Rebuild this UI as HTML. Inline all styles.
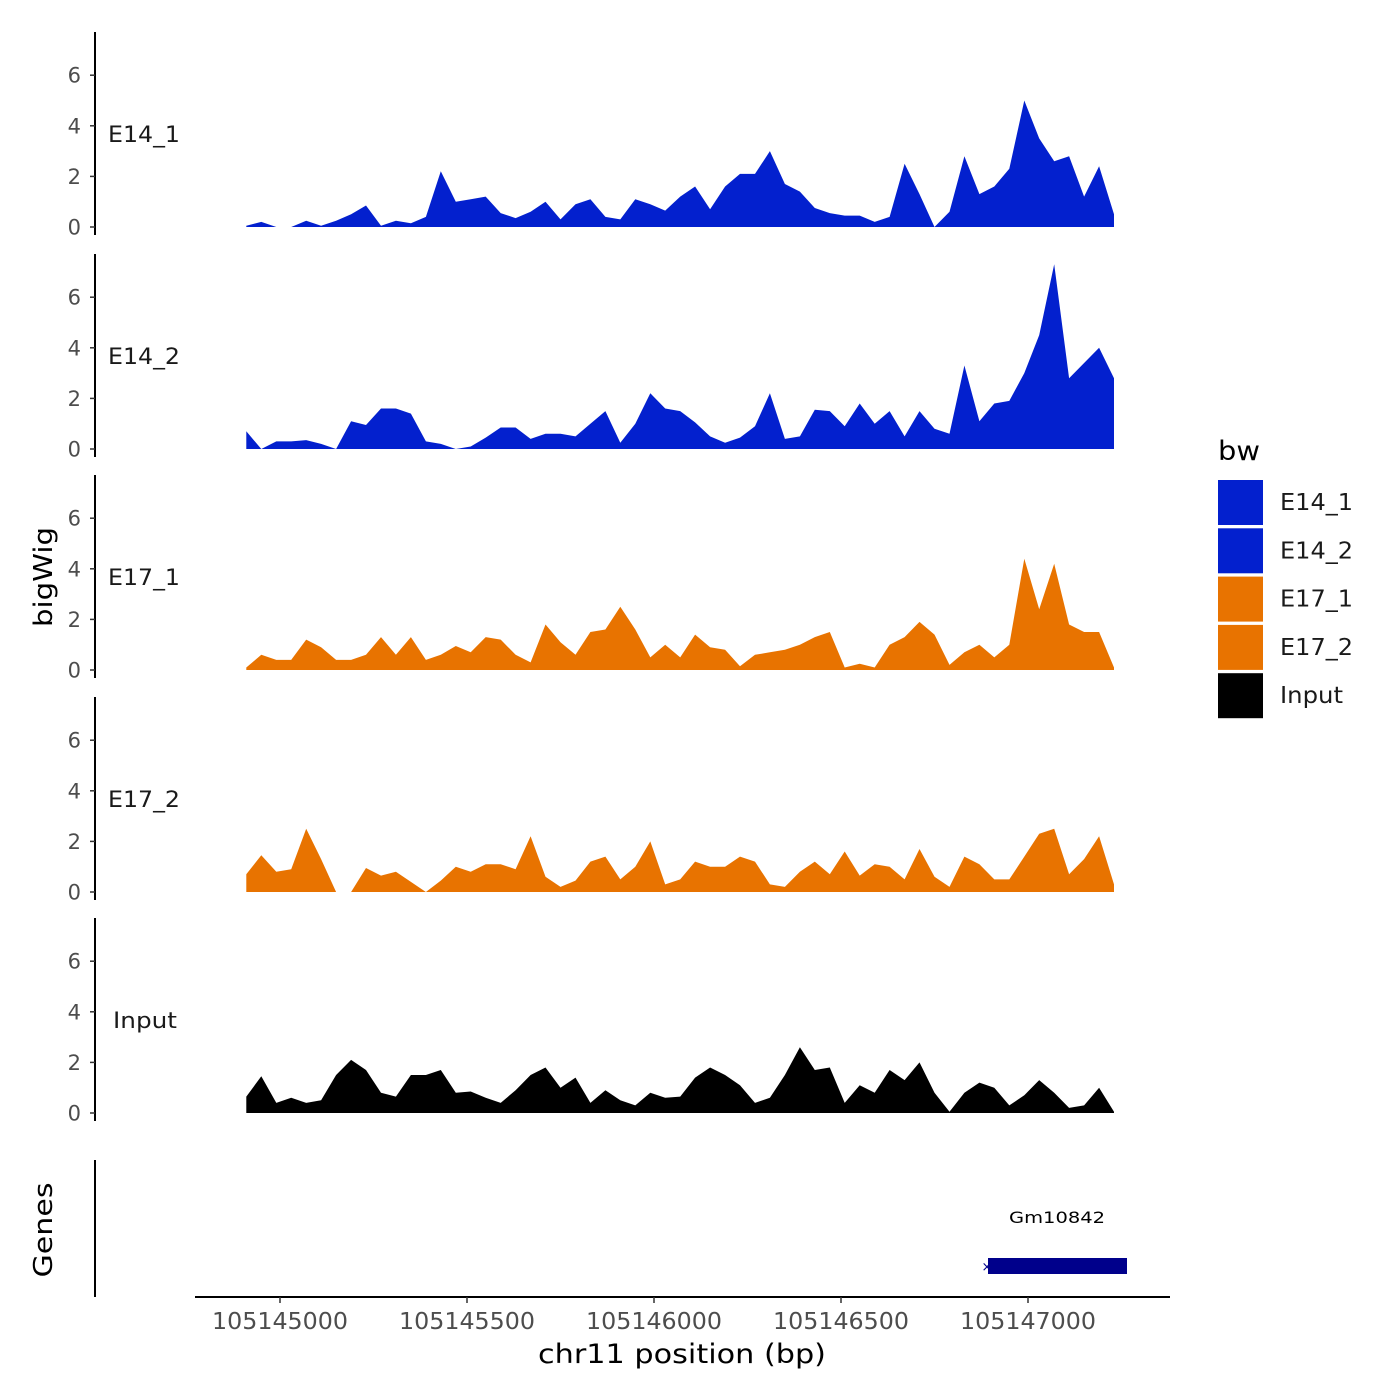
<!DOCTYPE html>
<html><head><meta charset="utf-8"><style>
html,body{margin:0;padding:0;background:#fff;}
svg{display:block;font-family:"DejaVu Sans","Liberation Sans",sans-serif;}
</style></head><body>
<svg id="chart" width="1400" height="1400" viewBox="0 0 1400 1400">
<rect width="1400" height="1400" fill="#fff"/>
<g id="panels"></g>
<g id="genes">
  <line x1="95" y1="1160" x2="95" y2="1297" stroke="#000" stroke-width="2"/>
  <text x="52" y="1230" font-size="26" text-anchor="middle" textLength="95" lengthAdjust="spacingAndGlyphs" transform="rotate(-90 52 1230)">Genes</text>
  <text x="1057" y="1223" font-size="16" text-anchor="middle" textLength="96" lengthAdjust="spacingAndGlyphs">Gm10842</text>
  <rect x="988" y="1258" width="139" height="16" fill="#00008B"/>
  <text x="987" y="1271" font-size="13" fill="#00008B" text-anchor="middle">×</text>
</g>
<g id="xaxis">
  <line x1="195" y1="1297" x2="1170" y2="1297" stroke="#000" stroke-width="2"/>
  <text x="682" y="1363" font-size="27" text-anchor="middle" textLength="288" lengthAdjust="spacingAndGlyphs">chr11 position (bp)</text>
</g>
<text x="52" y="577" font-size="26" text-anchor="middle" textLength="100" lengthAdjust="spacingAndGlyphs" transform="rotate(-90 52 577)">bigWig</text>
<g id="legend">
  <text x="1218" y="460" font-size="27" textLength="42" lengthAdjust="spacingAndGlyphs">bw</text>
</g>
</svg>
<script>
const seriesNames = ["E14_1","E14_2","E17_1","E17_2","Input"];
const seriesColors = ["#0320CE","#0320CE","#E87300","#E87300","#000000"];
const startBp = 105144910;
const stepBp = 40;
const e14_1 = [0.05,0.2,0,0,0.25,0.05,0.25,0.5,0.85,0.05,0.25,0.15,0.4,2.2,1.0,1.1,1.2,0.55,0.35,0.6,1.0,0.3,0.9,1.1,0.4,0.3,1.1,0.9,0.65,1.2,1.6,0.7,1.6,2.1,2.1,3.0,1.7,1.4,0.75,0.55,0.45,0.45,0.2,0.4,2.5,1.3,0,0.6,2.8,1.3,1.6,2.3,5.0,3.5,2.6,2.8,1.2,2.4,0.5];
const e14_2 = [0.7,0,0.3,0.3,0.35,0.2,0,1.1,0.95,1.6,1.6,1.4,0.3,0.2,0,0.1,0.45,0.85,0.85,0.4,0.6,0.6,0.5,1.0,1.5,0.25,1.0,2.2,1.6,1.5,1.05,0.5,0.25,0.45,0.9,2.2,0.4,0.5,1.55,1.5,0.9,1.8,1.0,1.5,0.5,1.5,0.8,0.6,3.3,1.1,1.8,1.9,3.0,4.5,7.3,2.8,3.4,4.0,2.8];
const e17_1 = [0.1,0.6,0.4,0.4,1.2,0.9,0.4,0.4,0.6,1.3,0.6,1.3,0.4,0.6,0.95,0.7,1.3,1.2,0.6,0.3,1.8,1.1,0.6,1.5,1.6,2.5,1.6,0.5,1.0,0.5,1.4,0.9,0.8,0.15,0.6,0.7,0.8,1.0,1.3,1.5,0.1,0.25,0.1,1.0,1.3,1.9,1.4,0.2,0.7,1.0,0.5,1.0,4.4,2.4,4.2,1.8,1.5,1.5,0.1];
const e17_2 = [0.7,1.45,0.8,0.9,2.5,1.3,0,0,0.95,0.65,0.8,0.4,0,0.45,1.0,0.8,1.1,1.1,0.9,2.2,0.6,0.2,0.45,1.2,1.4,0.5,1.0,2.0,0.3,0.5,1.2,1.0,1.0,1.4,1.2,0.3,0.2,0.8,1.2,0.7,1.6,0.65,1.1,1.0,0.5,1.7,0.6,0.2,1.4,1.1,0.5,0.5,1.4,2.3,2.5,0.7,1.3,2.2,0.3];
const input = [0.65,1.45,0.4,0.6,0.4,0.5,1.5,2.1,1.7,0.8,0.65,1.5,1.5,1.7,0.8,0.85,0.6,0.4,0.9,1.5,1.8,1.0,1.4,0.4,0.9,0.5,0.3,0.8,0.6,0.65,1.4,1.8,1.5,1.1,0.4,0.6,1.5,2.6,1.7,1.8,0.4,1.1,0.8,1.7,1.3,2.0,0.8,0.05,0.8,1.2,1.0,0.3,0.7,1.3,0.8,0.2,0.3,1.0,0.05];
const allSeries = [e14_1,e14_2,e17_1,e17_2,input];
const yTicks = [0,2,4,6];
const xTicks = [105145000,105145500,105146000,105146500,105147000];

const NS="http://www.w3.org/2000/svg";
function mk(tag,attrs,parent){const e=document.createElementNS(NS,tag);for(const k in attrs)e.setAttribute(k,attrs[k]);parent.appendChild(e);return e;}
function xScale(bp){return 280+(bp-105145000)*0.374;}
const baselines=[227,449,670,892,1113];
function yScale(v,p){return baselines[p]-v*25.3;}

const panels=document.getElementById('panels');
allSeries.forEach((vals,p)=>{
  const g=mk('g',{},panels);
  
  
  const b=baselines[p];
  let d='M'+xScale(startBp).toFixed(1)+','+b;
  vals.forEach((v,i)=>{d+=' L'+xScale(startBp+i*stepBp).toFixed(1)+','+yScale(v,p).toFixed(1);});
  d+=' L'+xScale(startBp+(vals.length-1)*stepBp).toFixed(1)+','+b+' Z';
  const area=mk('path',{d:d,fill:seriesColors[p]},g);
  
  
  const ax=mk('line',{x1:95,y1:b-195,x2:95,y2:b+8,stroke:'#000','stroke-width':2},g);
  
  
  yTicks.forEach(t=>{
    const y=yScale(t,p);
    const tk=mk('line',{x1:90,y1:y,x2:95,y2:y,stroke:'#333','stroke-width':1.5},g);
    
    
    const tl=mk('text',{x:81,y:y+7.5,'font-size':21,fill:'#4d4d4d','text-anchor':'end'},g);
    tl.textContent=t;
    
    
  });
  const isInput=seriesNames[p]==='Input';
  const lab=mk('text',{x:isInput?113:108,y:b-85,'font-size':22,fill:'#1a1a1a',textLength:isInput?64:72,lengthAdjust:'spacingAndGlyphs'},g);
  lab.textContent=seriesNames[p];
  
  
});

const xa=document.getElementById('xaxis');
xTicks.forEach(t=>{
  const x=xScale(t);
  const tk=mk('line',{x1:x,y1:1297,x2:x,y2:1303,stroke:'#333','stroke-width':1.5},xa);
  
  
  const tl=mk('text',{x:x,y:1329,'font-size':23,fill:'#4d4d4d','text-anchor':'middle',textLength:136,lengthAdjust:'spacingAndGlyphs'},xa);
  tl.textContent=t;
  
  
});

const lg=document.getElementById('legend');
seriesNames.forEach((n,i)=>{
  const y=480+i*48.3;
  const r=mk('rect',{x:1218,y:y,width:45,height:45,fill:seriesColors[i]},lg);
  
  
  const t=mk('text',{x:1280,y:y+30,'font-size':23,fill:'#1a1a1a',textLength:n==='Input'?63:73,lengthAdjust:'spacingAndGlyphs'},lg);
  t.textContent=n;
  
  
});
</script>
</body></html>
